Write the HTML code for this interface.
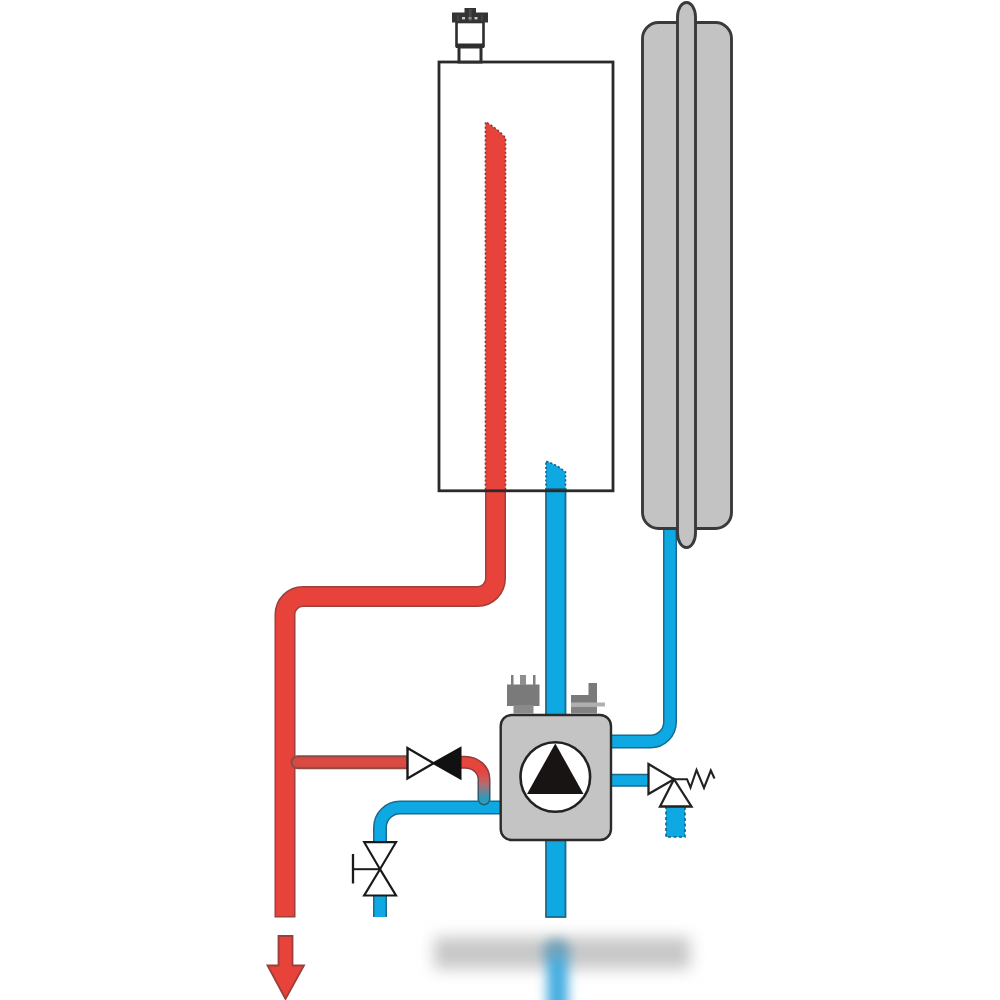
<!DOCTYPE html>
<html>
<head>
<meta charset="utf-8">
<style>
html,body{margin:0;padding:0;background:#fff;}
body{width:1000px;height:1000px;overflow:hidden;font-family:"Liberation Sans",sans-serif;}
svg{display:block;}
</style>
</head>
<body>
<svg width="1000" height="1000" viewBox="0 0 1000 1000">
<defs>
  <filter id="blur" filterUnits="userSpaceOnUse" x="350" y="880" width="420" height="120"><feGaussianBlur stdDeviation="7.5"/></filter>
  <filter id="blur2" filterUnits="userSpaceOnUse" x="480" y="880" width="160" height="130"><feGaussianBlur stdDeviation="6"/></filter>
  <linearGradient id="rb" x1="0" y1="772" x2="0" y2="798" gradientUnits="userSpaceOnUse">
    <stop offset="0" stop-color="#e4463e"/>
    <stop offset="0.45" stop-color="#b86a70"/>
    <stop offset="1" stop-color="#2e9cb8"/>
  </linearGradient>
  <linearGradient id="rbo" x1="0" y1="772" x2="0" y2="798" gradientUnits="userSpaceOnUse">
    <stop offset="0" stop-color="#8e3c38"/>
    <stop offset="1" stop-color="#1e5f78"/>
  </linearGradient>
</defs>

<!-- blurred watermark band -->
<g filter="url(#blur)">
  <rect x="434" y="937" width="256" height="32" fill="#c8c8c8"/>
</g>
<g filter="url(#blur2)">
  <ellipse cx="556.5" cy="952" rx="14" ry="13" fill="#6fa3bb"/>
  <rect x="547" y="958" width="21" height="60" fill="#45ade0"/>
</g>

<!-- boiler box fill -->
<rect x="439" y="62" width="174" height="428" fill="#fff"/>

<!-- hot pipe inside boiler -->
<path d="M485.5 490 V122 Q497 128 505.5 138 V490 Z" fill="#e8433a"/>
<path d="M485.5 490 V122 Q497 128 505.5 138 V490" fill="none" stroke="#8a3a36" stroke-width="1.6" stroke-dasharray="2.2 2"/>

<!-- cold pipe inside boiler -->
<path d="M546 490 V461 Q557 465 565.5 472 V490 Z" fill="#0ea8e2"/>
<path d="M546 490 V461 Q557 465 565.5 472 V490" fill="none" stroke="#1b5e80" stroke-width="1.6" stroke-dasharray="2.2 2"/>

<!-- hot main pipe outside boiler -->
<path d="M495.5 489 V578.5 A18 18 0 0 1 477.5 596.5 H303 A18 18 0 0 0 285 614.5 V917.5" fill="none" stroke="#9e3f3a" stroke-width="21"/>
<path d="M495.5 489 V578.5 A18 18 0 0 1 477.5 596.5 H303 A18 18 0 0 0 285 614.5 V916" fill="none" stroke="#e8433a" stroke-width="18"/>

<!-- cold vertical pipe through pump -->
<rect x="546" y="489" width="19.5" height="428" fill="#0ea8e2" stroke="#1b6a8c" stroke-width="1.8"/>

<!-- boiler box outline -->
<rect x="439" y="62" width="174" height="428.8" fill="none" stroke="#2a2a2a" stroke-width="2.8"/>

<!-- air vent -->
<rect x="459" y="47" width="22" height="15" fill="#fff" stroke="#2e2e2e" stroke-width="3"/>
<rect x="456.5" y="22" width="27" height="24" fill="#fff" stroke="#2e2e2e" stroke-width="2.6"/>
<rect x="456" y="43.5" width="28" height="4.5" fill="#2e2e2e"/>
<rect x="452" y="12.5" width="36" height="10" fill="#343434"/>
<rect x="464.5" y="8" width="11.5" height="5" fill="#343434"/>
<rect x="469" y="9" width="2.5" height="12" fill="#4a4a4a"/>
<rect x="457" y="15" width="2" height="6" fill="#444"/>
<rect x="481" y="15" width="2" height="6" fill="#444"/>
<rect x="462" y="17" width="3" height="2.4" fill="#c8c8c8"/>
<rect x="468.5" y="17" width="3" height="2.4" fill="#909090"/>
<rect x="474.5" y="17" width="3" height="2.4" fill="#c8c8c8"/>

<!-- expansion tank -->
<path d="M670 529 V722 A19.5 19.5 0 0 1 650.5 741.5 H610" fill="none" stroke="#1b6a8c" stroke-width="14"/>
<path d="M670 529 V722 A19.5 19.5 0 0 1 650.5 741.5 H610" fill="none" stroke="#0ea8e2" stroke-width="11"/>
<rect x="642.5" y="22.5" width="89" height="506" rx="16" ry="16" fill="#c3c3c3" stroke="#3a3a3a" stroke-width="2.9"/>
<path d="M677.5 17 A9 14.5 0 0 1 695.5 17 V533 A9 14.5 0 0 1 677.5 533 Z" fill="#c3c3c3" stroke="#3a3a3a" stroke-width="2.9"/>

<!-- pump right lower pipe -->
<rect x="609" y="774.5" width="40" height="11.5" fill="#0ea8e2" stroke="#1b6a8c" stroke-width="1.5"/>

<!-- relief valve -->
<rect x="666" y="806" width="19" height="31" fill="#0ea8e2"/>
<polyline points="666,806 666,837 685,837 685,806" fill="none" stroke="#1b5e80" stroke-width="1.6" stroke-dasharray="3 2.5"/>
<polygon points="648.5,764 648.5,794 674,779.2" fill="#fff" stroke="#222" stroke-width="2.3" stroke-linejoin="miter"/>
<polygon points="674,779.2 660,806.5 691.5,806.5" fill="#fff" stroke="#222" stroke-width="2.3"/>
<polyline points="674,779.2 687,779.2 690.5,787.5 696.5,770 704,788 710.8,770.5 714.5,778.5" fill="none" stroke="#222" stroke-width="2.1" stroke-linejoin="miter"/>

<!-- red branch to check valve -->
<path d="M297.5 762.2 H408" fill="none" stroke="#8f4a44" stroke-width="14" stroke-linecap="round"/>
<path d="M297.5 762.2 H408" fill="none" stroke="#d44a44" stroke-width="10" stroke-linecap="round"/>
<path d="M297.5 762.2 H408" fill="none" stroke="#dc4a42" stroke-width="4"/>

<!-- blue bottom-left pipe -->
<path d="M501 807.5 H400 A20 20 0 0 0 380 827.5 V917" fill="none" stroke="#1b6a8c" stroke-width="14"/>
<path d="M501 807.5 H400 A20 20 0 0 0 380 827.5 V917" fill="none" stroke="#0ea8e2" stroke-width="11"/>

<!-- red/blue bypass bend after valve -->
<path d="M458 762.2 H465 A19 17 0 0 1 484 779.2 V799" fill="none" stroke="url(#rbo)" stroke-width="13" stroke-linecap="round"/>
<path d="M458 762.2 H465 A19 17 0 0 1 484 779.2 V799" fill="none" stroke="url(#rb)" stroke-width="10" stroke-linecap="round"/>

<!-- check valve -->
<polygon points="407.5,748 407.5,778.5 433.5,763.2" fill="#fff" stroke="#1a1a1a" stroke-width="2.4"/>
<polygon points="433.5,763.2 460.5,748 460.5,778.5" fill="#111" stroke="#111" stroke-width="2"/>

<!-- pump -->
<rect x="507" y="684.5" width="32.5" height="21.5" fill="#7a7a7a"/>
<rect x="513.5" y="705" width="20" height="8.5" fill="#8a8a8a"/>
<rect x="511" y="675" width="2.5" height="10" fill="#7e7e7e"/>
<rect x="520" y="675" width="6" height="10" fill="#8e8e8e"/>
<rect x="533" y="675" width="2.5" height="10" fill="#7e7e7e"/>
<rect x="571" y="695" width="26" height="8" fill="#7a7a7a"/>
<rect x="588.5" y="683" width="8.5" height="13" fill="#7a7a7a"/>
<rect x="571" y="702.5" width="34" height="4" fill="#b0b0b0"/>
<rect x="571" y="706.5" width="26" height="7" fill="#828282"/>

<rect x="500.7" y="715" width="110.3" height="125" rx="11" ry="11" fill="#c4c4c4" stroke="#2a2a2a" stroke-width="2.4"/>
<circle cx="555.3" cy="777" r="34.8" fill="#fff" stroke="#222" stroke-width="2.6"/>
<polygon points="555.3,743.5 527,794 583.5,794" fill="#181414"/>

<!-- gate valve bottom-left -->
<rect x="364" y="842" width="33" height="54" fill="#fff"/>
<polygon points="364.2,842.2 396,842.2 380,869.2" fill="#fff" stroke="#1a1a1a" stroke-width="2.2"/>
<polygon points="380,869.2 364.2,895.5 396,895.5" fill="#fff" stroke="#1a1a1a" stroke-width="2.2"/>
<line x1="380" y1="869.2" x2="353" y2="869.2" stroke="#1a1a1a" stroke-width="2"/>
<line x1="353" y1="854" x2="353" y2="883.5" stroke="#1a1a1a" stroke-width="2.3"/>

<!-- arrow -->
<polygon points="278.5,936 292.5,936 292.5,965.5 304,965.5 285.5,999 267.5,965.5 278.5,965.5" fill="#e8433a" stroke="#9c3e3a" stroke-width="1.8"/>
</svg>
</body>
</html>
